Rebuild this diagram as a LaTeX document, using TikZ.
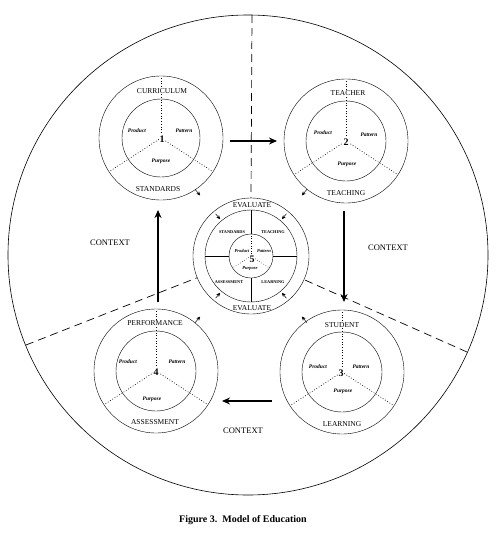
\documentclass[tikz,border=0pt]{standalone}
\usepackage{fontspec}
\setmainfont{Liberation Serif}
\usetikzlibrary{arrows.meta,calc}
\begin{document}
\begin{tikzpicture}[x=1pt,y=-1pt,
 ring/.style={line width=0.4pt},
 spoke/.style={dotted, line width=0.7pt},
 divider/.style={line width=0.7pt, dash pattern=on 8pt off 5pt},
 flow/.style={line width=1.8pt,-{Stealth[length=8pt,width=7pt]}},
 tickarrow/.style={line width=0.5pt,-{Stealth[length=4pt,width=3.5pt]}},
 ringlab/.style={font=\fontsize{7.5}{8}\selectfont, inner sep=0pt},
 ppp/.style={font=\fontsize{5.5}{6}\selectfont\bfseries\itshape, inner sep=0pt},
 num/.style={font=\fontsize{10}{10}\selectfont\bfseries, inner sep=0.3pt, fill=white},
 ctx/.style={font=\fontsize{8.5}{9}\selectfont, inner sep=0pt},
 small/.style={font=\fontsize{4.3}{5}\selectfont\bfseries, inner sep=0pt},
 smallit/.style={font=\fontsize{4.5}{5}\selectfont\bfseries\itshape, inner sep=0pt}]

\useasboundingbox (0,0) rectangle (501,543);

% big context circle
\coordinate (big) at (248,255);
\draw[line width=0.6pt] (big) circle[radius=240pt];

% center circle 5
\coordinate (c5) at (251,256);
\draw[ring] (c5) circle[radius=58pt];
\draw[ring] (c5) circle[radius=46pt];
\draw[ring] (c5) circle[radius=22pt];
\draw[line width=0.5pt] ($(c5)+(90:22pt)$) -- ($(c5)+(90:46pt)$);
\draw[line width=0.5pt] ($(c5)+(270:22pt)$) -- ($(c5)+(270:46pt)$);
\draw[line width=0.5pt] ($(c5)+(180:22pt)$) -- ($(c5)+(180:46pt)$);
\draw[line width=0.5pt] ($(c5)+(0:22pt)$) -- ($(c5)+(0:46pt)$);
\draw[spoke,line width=0.5pt] (c5) -- ($(c5)+(90:22pt)$);
\draw[spoke,line width=0.5pt] (c5) -- ($(c5)+(213:22pt)$);
\draw[spoke,line width=0.5pt] (c5) -- ($(c5)+(327:22pt)$);
\node[ringlab] (ev1) at (252,205) {EVALUATE};
\node[ringlab] (ev2) at (252,308) {EVALUATE};
\node[small] (s5) at (232,232) {STANDARDS};
\node[small] (t5) at (273,232) {TEACHING};
\node[small] (a5) at (229,282) {ASSESSMENT};
\node[small] (l5) at (273,282) {LEARNING};
\node[smallit] (pr5) at (242,251) {Product};
\node[smallit] (pa5) at (264,251) {Pattern};
\node[num] (n5) at (252,259) {5};
\node[smallit] (pu5) at (250,269) {Purpose};

% small arrowheads around the center
\foreach \a in {50,130,230,310}{
  \draw[tickarrow] ($(c5)+(\a:87pt)$) -- ($(c5)+(\a:79pt)$);
  \draw[tickarrow] ($(c5)+(\a:55pt)$) -- ($(c5)+(\a:48pt)$);
}

% dividers
\coordinate (dTop) at (252,15);
\coordinate (dLeft) at (26,345);
\coordinate (dRight) at (467,352);
\draw[divider] (dTop) -- ($(c5)+(90:58pt)$);
\draw[divider] (dLeft) -- ($(c5)+(202:58pt)$);
\draw[divider] (dRight) -- ($(c5)+(336:58pt)$);

% corner circles
\coordinate (c1) at (161,138);
\coordinate (c2) at (346,141);
\coordinate (c3) at (342,372);
\coordinate (c4) at (156,371);
\foreach \c/\ri in {c1/39pt,c2/40pt,c3/40pt,c4/40pt}{
  \draw[ring] (\c) circle[radius=62pt];
  \draw[ring] (\c) circle[radius=\ri];
  \draw[spoke] (\c) -- ($(\c)+(90:62pt)$);
  \draw[spoke] (\c) -- ($(\c)+(213:62pt)$);
  \draw[spoke] (\c) -- ($(\c)+(327:62pt)$);
}

% circle 1
\node[ringlab,fill=white,inner sep=0.5pt] (cur) at (162,91) {CURRICULUM};
\node[ringlab] (std) at (158,189) {STANDARDS};
\node[ppp] (pr1) at (137,131) {Product};
\node[ppp] (pa1) at (184,131) {Pattern};
\node[ppp] (pu1) at (161,161) {Purpose};
\node[num] (n1) at (162,139) {1};

% circle 2
\node[ringlab,fill=white,inner sep=0.5pt] (tea) at (348,93) {TEACHER};
\node[ringlab] (tch) at (346,193) {TEACHING};
\node[ppp] (pr2) at (323,133) {Product};
\node[ppp] (pa2) at (369,135) {Pattern};
\node[ppp] (pu2) at (347,164) {Purpose};
\node[num] (n2) at (346,142) {2};

% circle 3
\node[ringlab,fill=white,inner sep=0.5pt] (stu) at (342,325) {STUDENT};
\node[ringlab] (lea) at (342,424) {LEARNING};
\node[ppp] (pr3) at (318,367) {Product};
\node[ppp] (pa3) at (361,367) {Pattern};
\node[ppp] (pu3) at (343,391) {Purpose};
\node[num] (n3) at (341,373) {3};

% circle 4
\node[ringlab,fill=white,inner sep=0.5pt] (per) at (155,323) {PERFORMANCE};
\node[ringlab] (ass) at (155,422) {ASSESSMENT};
\node[ppp] (pr4) at (128,362) {Product};
\node[ppp] (pa4) at (177,362) {Pattern};
\node[ppp] (pu4) at (152,399) {Purpose};
\node[num] (n4) at (156,372) {4};

% flow arrows
\coordinate (f1s) at (230,141); \coordinate (f1e) at (277,141);
\coordinate (f2s) at (344,211); \coordinate (f2e) at (344,302);
\coordinate (f3s) at (272,401); \coordinate (f3e) at (222,401);
\coordinate (f4s) at (158,302); \coordinate (f4e) at (158,210);
\draw[flow] (f1s) -- (f1e);
\draw[flow] (f2s) -- (f2e);
\draw[flow] (f3s) -- (f3e);
\draw[flow] (f4s) -- (f4e);

% context labels
\node[ctx] (ctxL) at (110,243) {CONTEXT};
\node[ctx] (ctxR) at (388,248) {CONTEXT};
\node[ctx] (ctxB) at (243,431) {CONTEXT};

% caption
\node[font=\fontsize{10}{12}\selectfont\bfseries, inner sep=0pt] (cap) at (243,520) {Figure 3.\ \ Model of Education};
\end{tikzpicture}
\end{document}
